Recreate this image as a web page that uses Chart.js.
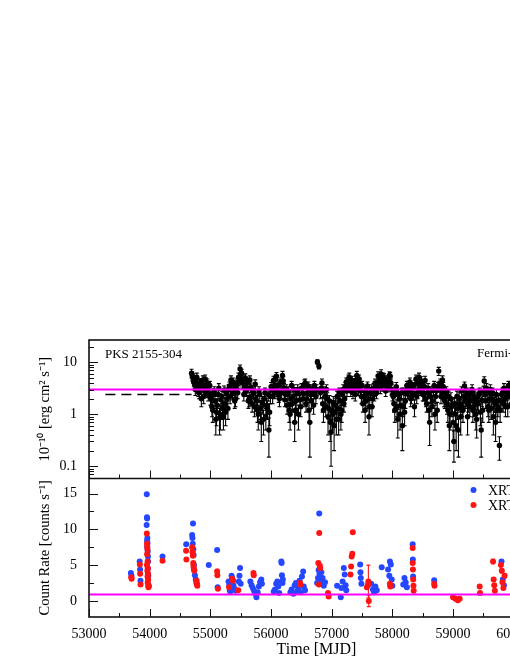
<!DOCTYPE html>
<html>
<head>
<meta charset="utf-8">
<script src="https://cdn.jsdelivr.net/npm/chart.js@4.4.1/dist/chart.umd.min.js"></script>
<style>
    html, body { margin: 0; padding: 0; background: #fff; overflow: hidden; }
    #wrap { width: 510px; height: 660px; overflow: hidden; position: relative; }
    #lc { position: absolute; left: 0; top: 0; }
</style>
</head>
<body>
<div id="wrap"><canvas id="lc" width="560" height="660"></canvas></div>
<script>
// Fermi-LAT light curve (10^-10 erg cm^-2 s^-1), first set of bins
const fermiMjd = [
    54690, 54715, 54740, 54765, 54790, 54815, 54840, 54865, 54890, 54915, 54940, 54965, 54990,
    55015, 55040, 55065, 55090, 55115, 55140, 55165, 55190, 55215, 55240, 55265, 55290,
    55315, 55340, 55365, 55390, 55415, 55440, 55465, 55490,
    55515, 55540, 55565, 55590, 55615, 55640, 55665, 55690, 55715, 55740,
    55765, 55790, 55815, 55840, 55865, 55890, 55915, 55940, 55965, 55990,
    56015, 56040, 56065, 56090, 56115, 56140, 56165, 56190, 56215, 56240,
    56265, 56290, 56315, 56340, 56365, 56390, 56415, 56440, 56465, 56490,
    56515, 56540, 56565, 56590, 56615, 56640, 56665, 56690, 56715, 56740,
    56765, 56790,
    56815, 56840, 56865, 56890, 56915, 56940, 56965, 56990,
    57015, 57040, 57065, 57090, 57115, 57140, 57165, 57190, 57215, 57240,
    57265, 57290, 57315, 57340, 57365, 57390, 57415, 57440, 57465, 57490,
    57515, 57540, 57565, 57590, 57615, 57640, 57665, 57690, 57715, 57740,
    57765, 57790, 57815, 57840, 57865, 57890, 57915, 57940, 57965, 57990,
    58015, 58040, 58065, 58090, 58115, 58140, 58165, 58190, 58215, 58240,
    58265, 58290, 58315, 58340, 58365, 58390, 58415, 58440, 58465, 58490,
    58515, 58540, 58565, 58590, 58615, 58640, 58665, 58690, 58715, 58740,
    58765, 58790, 58815, 58840, 58865, 58890, 58915, 58940, 58965, 58990,
    59015, 59040, 59065, 59090, 59115, 59140, 59165, 59190, 59215, 59240,
    59265, 59290, 59315, 59340, 59365, 59390, 59415, 59440, 59465, 59490,
    59515, 59540, 59565, 59590, 59615, 59640, 59665, 59690, 59715, 59740,
    59765, 59790, 59815, 59840, 59865, 59890, 59915, 59940, 59965, 59990, 60015, 60040
];
const fermiFlux = [
    6.2, 5.0, 3.8, 4.5, 3.2, 2.6, 4.1, 3.5, 2.2, 4.8, 3.0, 2.4, 3.6,
    2.0, 1.2, 2.8, 0.8, 1.5, 3.2, 1.0, 2.2, 0.9, 1.6, 2.6, 1.3,
    3.5, 4.6, 2.5, 3.0, 2.0, 4.0, 5.2, 7.5,
    6.2, 4.8, 3.5, 2.8, 4.2, 2.0, 3.3, 1.6, 2.6, 3.8,
    1.8, 1.0, 2.4, 0.7, 1.5, 2.0, 0.9, 1.3, 0.5, 2.2,
    3.0, 4.5, 2.6, 5.4, 3.5, 2.0, 4.2, 5.6, 3.2, 2.4,
    1.5, 2.8, 1.0, 3.6, 2.2, 0.7, 1.8, 3.0, 2.5, 1.4,
    3.2, 2.5, 4.0, 2.0, 3.5, 0.7, 1.8, 2.8, 3.6, 2.2,
    10.2, 8.4,
    2.6, 4.0, 1.2, 2.2, 3.0, 0.9, 1.8, 0.45,
    1.0, 0.6, 1.5, 2.2, 0.8, 1.8, 1.2, 3.0, 2.0, 4.2,
    3.8, 5.2, 2.8, 4.5, 3.2, 2.4, 5.6, 3.0, 4.0, 2.2,
    1.6, 2.8, 1.8, 3.5, 0.9, 2.5, 1.4, 3.2, 4.0, 2.6,
    5.5, 4.2, 6.0, 3.5, 5.0, 2.8, 4.6, 3.8, 5.4, 3.0,
    2.2, 1.2, 3.4, 0.8, 2.0, 1.5, 0.6, 2.6, 1.8, 3.6,
    2.8, 4.2, 2.2, 3.4, 1.4, 4.8, 2.6, 5.2, 3.0, 3.8,
    2.4, 4.5, 1.6, 3.2, 0.7, 2.8, 1.8, 3.6, 2.2, 1.2,
    6.8, 4.0, 2.6, 3.4, 1.8, 2.8, 1.2, 0.6, 2.0, 1.5,
    0.3, 1.0, 2.2, 0.5, 1.6, 2.8, 1.2, 3.5, 2.0, 0.9,
    2.4, 1.8, 3.0, 1.4, 2.0, 0.8, 1.6, 2.6, 0.5, 1.2,
    4.4, 1.8, 2.6, 1.2, 3.0, 2.0, 0.9, 1.6, 2.4, 1.4,
    0.25, 1.8, 2.6, 3.2, 1.4, 2.2, 3.6, 2.8, 1.6, 3.0, 2.4, 2.0
];
const fermiErr = [
    1.2, 1.0, 0.8, 0.9, 0.7, 0.6, 0.8, 0.7, 0.6, 0.9, 0.7, 0.6, 0.7,
    0.6, 0.5, 0.6, 0.4, 0.5, 0.7, 0.5, 0.6, 0.4, 0.5, 0.6, 0.5,
    0.7, 0.9, 0.6, 0.7, 0.6, 0.8, 1.0, 1.4,
    1.2, 0.9, 0.7, 0.6, 0.8, 0.6, 0.7, 0.5, 0.6, 0.8,
    0.5, 0.5, 0.6, 0.4, 0.5, 0.6, 0.4, 0.5, 0.35, 0.6,
    0.7, 0.9, 0.6, 1.0, 0.7, 0.6, 0.8, 1.1, 0.7, 0.6,
    0.5, 0.6, 0.5, 0.7, 0.6, 0.4, 0.5, 0.7, 0.6, 0.5,
    0.7, 0.6, 0.8, 0.6, 0.7, 0.55, 0.5, 0.6, 0.7, 0.6,
    1.0, 0.9,
    0.6, 0.8, 0.5, 0.6, 0.7, 0.5, 0.5, 0.35,
    0.5, 0.4, 0.5, 0.6, 0.4, 0.5, 0.5, 0.7, 0.6, 0.8,
    0.8, 1.0, 0.6, 0.9, 0.7, 0.6, 1.1, 0.7, 0.8, 0.6,
    0.5, 0.6, 0.5, 0.7, 0.5, 0.6, 0.5, 0.7, 0.8, 0.6,
    1.1, 0.8, 1.2, 0.7, 1.0, 0.6, 0.9, 0.8, 1.0, 0.7,
    0.6, 0.5, 0.7, 0.45, 0.6, 0.5, 0.4, 0.6, 0.5, 0.7,
    0.6, 0.8, 0.6, 0.7, 0.5, 0.9, 0.6, 1.0, 0.7, 0.8,
    0.6, 0.9, 0.5, 0.7, 0.45, 0.6, 0.5, 0.7, 0.6, 0.5,
    1.2, 0.8, 0.6, 0.7, 0.5, 0.6, 0.5, 0.4, 0.6, 0.5,
    0.18, 0.5, 0.6, 0.35, 0.5, 0.6, 0.5, 0.7, 0.6, 0.5,
    0.6, 0.5, 0.7, 0.5, 0.6, 0.45, 0.5, 0.6, 0.35, 0.5,
    0.9, 0.5, 0.6, 0.5, 0.7, 0.6, 0.5, 0.5, 0.6, 0.5,
    0.12, 0.5, 0.6, 0.7, 0.5, 0.6, 0.7, 0.6, 0.5, 0.7, 0.6, 0.6
];

// Fermi-LAT, second set of bins (shifted by half a bin)
const fermiMjdB = [
    54702, 54727, 54752, 54777, 54802, 54827, 54852, 54877, 54902, 54927, 54952, 54977, 55002,
    55027, 55052, 55077, 55102, 55127, 55152, 55177, 55202, 55227, 55252, 55277, 55302,
    55327, 55352, 55377, 55402, 55427, 55452, 55477, 55502,
    55527, 55552, 55577, 55602, 55627, 55652, 55677, 55702, 55727, 55752,
    55777, 55802, 55827, 55852, 55877, 55902, 55927, 55952, 55977, 56002,
    56027, 56052, 56077, 56102, 56127, 56152, 56177, 56202, 56227, 56252,
    56277, 56302, 56327, 56352, 56377, 56402, 56427, 56452, 56477, 56502,
    56527, 56552, 56577, 56602, 56627, 56652, 56677, 56702, 56727, 56752,
    56827, 56852, 56877, 56902, 56927, 56952, 56977, 57002,
    57027, 57052, 57077, 57102, 57127, 57152, 57177, 57202, 57227, 57252,
    57277, 57302, 57327, 57352, 57377, 57402, 57427, 57452, 57477, 57502,
    57527, 57552, 57577, 57602, 57627, 57652, 57677, 57702, 57727, 57752,
    57777, 57802, 57827, 57852, 57877, 57902, 57927, 57952, 57977, 58002,
    58027, 58052, 58077, 58102, 58127, 58152, 58177, 58202, 58227, 58252,
    58277, 58302, 58327, 58352, 58377, 58402, 58427, 58452, 58477, 58502,
    58527, 58552, 58577, 58602, 58627, 58652, 58677, 58702, 58727, 58752,
    58777, 58802, 58827, 58852, 58877, 58902, 58927, 58952, 58977, 59002,
    59027, 59052, 59077, 59102, 59127, 59152, 59177, 59202, 59227, 59252,
    59277, 59302, 59327, 59352, 59377, 59402, 59427, 59452, 59477, 59502,
    59527, 59552, 59577, 59602, 59627, 59652, 59677, 59702, 59727, 59752,
    59777, 59802, 59827, 59852, 59877, 59902, 59927, 59952, 59977, 60002, 60027, 60052
];
const fermiFluxB = [
    5.5, 4.2, 3.0, 5.2, 2.8, 3.9, 2.0, 4.6, 3.3, 2.7, 4.0, 3.4, 2.1,
    1.4, 2.5, 1.8, 1.1, 2.4, 0.85, 1.9, 1.3, 2.9, 1.1, 2.0, 3.0,
    2.2, 3.8, 4.2, 1.8, 3.6, 2.6, 4.4, 6.0,
    4.0, 2.4, 5.0, 3.0, 1.8, 4.6, 2.2, 2.9, 1.4, 2.0,
    1.2, 2.8, 1.3, 1.7, 0.8, 2.6, 1.5, 2.4, 1.1, 3.4,
    2.2, 3.6, 4.8, 2.8, 2.3, 3.8, 2.6, 4.4, 1.9, 3.0,
    2.4, 1.2, 2.0, 1.6, 3.0, 1.2, 2.6, 1.0, 1.9, 3.2,
    2.0, 3.8, 1.6, 2.6, 1.2, 2.4, 3.0, 1.5, 2.6, 3.0,
    3.2, 1.6, 2.8, 1.4, 2.0, 1.3, 0.7, 1.2,
    1.7, 1.1, 0.8, 1.3, 2.6, 1.0, 2.4, 1.6, 3.4, 2.8,
    4.8, 3.4, 4.0, 2.6, 3.8, 4.6, 3.4, 4.8, 2.8, 3.6,
    2.2, 1.2, 2.6, 2.0, 1.4, 3.0, 2.0, 2.4, 2.9, 3.4,
    4.6, 3.2, 4.8, 5.2, 3.8, 4.2, 3.4, 5.6, 4.0, 2.4,
    1.6, 2.8, 1.4, 2.4, 1.0, 2.6, 1.4, 1.1, 2.9, 2.6,
    3.6, 2.0, 3.2, 2.5, 3.8, 2.2, 4.0, 3.4, 4.4, 2.4,
    3.4, 2.0, 2.6, 1.2, 2.2, 1.4, 2.9, 1.0, 2.8, 3.4,
    3.6, 2.2, 4.6, 2.0, 2.4, 1.5, 2.2, 1.0, 1.4, 0.7,
    1.6, 0.6, 1.3, 2.0, 0.9, 1.4, 2.2, 1.8, 2.6, 1.6,
    1.4, 2.6, 1.2, 2.2, 1.0, 1.7, 2.4, 1.1, 1.9, 2.8,
    2.4, 3.2, 1.4, 2.0, 1.3, 2.6, 1.8, 0.7, 1.2, 1.9,
    1.2, 2.4, 1.6, 2.0, 2.8, 1.4, 2.6, 3.4, 2.2, 1.8, 3.2, 2.6
];
const fermiErrB = [
    1.1, 0.8, 0.7, 1.0, 0.6, 0.8, 0.6, 0.9, 0.7, 0.6, 0.8, 0.7, 0.6,
    0.5, 0.6, 0.5, 0.5, 0.6, 0.45, 0.5, 0.5, 0.6, 0.5, 0.6, 0.7,
    0.6, 0.8, 0.8, 0.5, 0.7, 0.6, 0.9, 1.1,
    0.8, 0.6, 1.0, 0.7, 0.5, 0.9, 0.6, 0.6, 0.5, 0.6,
    0.5, 0.6, 0.5, 0.5, 0.4, 0.6, 0.5, 0.6, 0.5, 0.7,
    0.6, 0.7, 0.9, 0.6, 0.6, 0.8, 0.6, 0.9, 0.5, 0.7,
    0.6, 0.5, 0.6, 0.5, 0.7, 0.5, 0.6, 0.5, 0.5, 0.7,
    0.6, 0.8, 0.5, 0.6, 0.5, 0.6, 0.7, 0.5, 0.6, 0.7,
    0.7, 0.5, 0.6, 0.5, 0.6, 0.5, 0.4, 0.5,
    0.5, 0.5, 0.4, 0.5, 0.6, 0.5, 0.6, 0.5, 0.7, 0.6,
    0.9, 0.7, 0.8, 0.6, 0.8, 0.9, 0.7, 0.9, 0.6, 0.7,
    0.6, 0.5, 0.6, 0.6, 0.5, 0.7, 0.6, 0.6, 0.6, 0.7,
    0.9, 0.7, 0.9, 1.0, 0.8, 0.8, 0.7, 1.0, 0.8, 0.6,
    0.5, 0.6, 0.5, 0.6, 0.5, 0.6, 0.5, 0.5, 0.6, 0.6,
    0.7, 0.6, 0.7, 0.6, 0.8, 0.6, 0.8, 0.7, 0.9, 0.6,
    0.7, 0.6, 0.6, 0.5, 0.6, 0.5, 0.6, 0.5, 0.6, 0.7,
    0.7, 0.6, 0.9, 0.6, 0.6, 0.5, 0.6, 0.5, 0.5, 0.4,
    0.5, 0.4, 0.5, 0.6, 0.5, 0.5, 0.6, 0.5, 0.6, 0.5,
    0.5, 0.6, 0.5, 0.6, 0.5, 0.5, 0.6, 0.5, 0.5, 0.6,
    0.6, 0.7, 0.5, 0.6, 0.5, 0.6, 0.5, 0.4, 0.5, 0.5,
    0.5, 0.6, 0.5, 0.6, 0.6, 0.5, 0.6, 0.7, 0.6, 0.5, 0.7, 0.6
];

// Swift-XRT count rates (blue)
const xrtWtMjd = [
    53690, 53700, 53835, 53842, 53848,
    53952, 53955, 53958, 53950, 53962, 53957, 53965, 53960, 53968, 53972, 53975, 53970, 53978, 53982, 53985,
    54212, 54602,
    54700, 54705, 54714, 54710, 54720, 54725, 54730, 54735, 54745, 54760, 54770, 54780,
    54974, 55112, 55120,
    55300, 55310, 55320, 55330, 55350, 55360, 55380, 55400, 55420, 55470, 55480, 55490, 55500,
    55660, 55680, 55700, 55720, 55740, 55760, 55780, 55800, 55820, 55840, 55850,
    56045, 56065, 56085, 56105, 56120, 56135, 56170, 56175, 56180, 56190, 56195,
    56320, 56340, 56370, 56390, 56410, 56430, 56450, 56470, 56490, 56510, 56530, 56540, 56560,
    56795, 56760, 56775, 56785, 56800, 56810, 56830, 56850, 56870, 56890,
    57090, 57150, 57160, 57180, 57200, 57215, 57230, 57240,
    57470, 57475, 57480, 57490,
    57650, 57680, 57700, 57720, 57743, 57825,
    57930, 57950, 57960, 57975, 57990, 58000,
    58180, 58200, 58220, 58240, 58335, 58338, 58342,
    58690, 59800, 59820, 59840
];
const xrtWtRate = [
    3.9, 3.5, 5.5, 4.4, 2.8,
    14.9, 11.7, 11.5, 10.6, 8.8, 8.4, 8.1, 7.5, 6.9, 6.2, 5.5, 4.5, 3.5, 2.2, 2.0,
    6.2, 7.9,
    9.2, 8.8, 10.8, 8.0, 7.2, 6.4, 5.0, 4.3, 3.6, 3.0, 2.5, 2.3,
    5.0, 7.1, 1.9,
    2.7, 2.1, 1.5, 1.3, 3.5, 3.2, 2.2, 1.7, 1.4, 2.7, 3.5, 4.6, 2.4,
    2.7, 2.2, 1.8, 1.4, 1.0, 0.5, 1.2, 2.0, 2.6, 3.0, 2.4,
    1.3, 1.6, 2.4, 2.7, 2.0, 1.1, 5.5, 5.3, 3.6, 2.5, 3.0,
    1.2, 1.6, 1.0, 2.2, 2.5, 1.3, 1.8, 2.8, 1.2, 3.4, 4.1, 2.0, 1.5,
    12.2, 2.5, 3.2, 4.3, 3.8, 2.7, 4.0, 3.2, 2.1, 2.6,
    2.1, 0.5, 1.8, 2.7, 4.6, 3.7, 2.2, 1.5,
    5.1, 4.0, 3.2, 2.4,
    2.4, 1.6, 1.2, 2.0, 1.5, 4.7,
    4.4, 3.5, 5.5, 5.1, 3.0, 2.1,
    2.3, 3.2, 2.6, 1.9, 7.9, 5.8, 3.4,
    2.9, 5.5, 3.0, 2.2
];

// Swift-XRT count rates (red)
const xrtPcMjd = [
    53697, 53703, 53838, 53843, 53850,
    53953, 53956, 53960, 53963, 53958, 53966, 53955, 53969, 53962, 53972, 53965, 53975, 53968, 53978, 53980,
    54212, 54600, 54605,
    54700, 54706, 54712, 54718, 54722, 54726, 54735, 54775, 54780, 54785,
    55112, 55116, 55125, 55310, 55360, 55375, 55460, 55710, 55716,
    56480, 56485,
    56795, 56780, 56805, 56812, 56790, 56940, 56950,
    57310, 57320, 57330, 57340, 57348,
    57580, 57600, 57605, 57612,
    57960, 57965,
    58335, 58336, 58340, 58344, 58348, 58352,
    58690, 58695,
    59000, 59040, 59080, 59110, 59440, 59445,
    59660, 59670, 59680, 59690,
    59790, 59805, 59815, 59830, 59850
];
const xrtPcRate = [
    3.3, 3.1, 5.1, 3.8, 2.3,
    9.4, 8.0, 7.6, 7.2, 6.5, 5.5, 5.0, 4.6, 4.2, 3.8, 3.4, 3.0, 2.6, 2.2, 1.9,
    5.6, 7.0, 5.8,
    7.5, 6.8, 6.3, 5.3, 4.9, 4.6, 4.2, 2.8, 2.3, 2.1,
    4.1, 3.6, 1.7, 1.9, 3.1, 2.8, 1.5, 3.9, 3.6,
    2.5, 2.3,
    9.5, 5.3, 4.9, 4.6, 2.3, 1.1, 0.6,
    3.7, 4.8, 6.2, 6.6, 9.6,
    1.9, 2.3, 2.7, 0.0,
    2.4, 2.0,
    7.4, 5.3, 4.4, 3.0, 2.1, 1.4,
    2.4, 2.1,
    0.5, 0.3, 0.1, 0.3, 2.0, 1.1,
    5.5, 3.0, 2.2, 1.4,
    5.0, 4.2, 2.6, 1.8, 3.5
];
const xrtPcErr = [
    0.2, 0.2, 0.2, 0.2, 0.2,
    0.2, 0.2, 0.2, 0.2, 0.2, 0.2, 0.2, 0.2, 0.2, 0.2, 0.2, 0.2, 0.2, 0.2, 0.2,
    0.2, 0.2, 0.2,
    0.2, 0.2, 0.2, 0.2, 0.2, 0.2, 0.2, 0.2, 0.2, 0.2,
    0.3, 0.2, 0.2, 0.2, 0.3, 0.2, 0.2, 0.2, 0.2,
    0.2, 0.2,
    0.2, 0.2, 0.2, 0.2, 0.2, 0.2, 0.2,
    0.2, 0.2, 0.2, 0.2, 0.2,
    0.3, 0.3, 2.3, 0.8,
    0.2, 0.2,
    0.2, 0.2, 0.2, 0.2, 0.2, 0.2,
    0.2, 0.2,
    0.2, 0.2, 0.2, 0.2, 0.2, 0.2,
    0.3, 0.2, 0.2, 0.2,
    0.7, 0.3, 0.2, 0.2, 0.3
];

// reference levels
const fermiMeanX = [53000, 60500];
const fermiMeanY = [3.0, 3.0];
const preFermiX = [53270, 54690];
const preFermiY = [2.4, 2.4];
const xrtMeanX = [53000, 60500];
const xrtMeanY = [0.9, 0.9];

// tick values
const mjdTicks = [53000, 53500, 54000, 54500, 55000, 55500, 56000, 56500, 57000, 57500, 58000, 58500, 59000, 59500, 60000, 60500];
const rateTicks = [0, 2.5, 5, 7.5, 10, 12.5, 15];
const fluxTicks = [0.06, 0.07, 0.08, 0.09, 0.1, 0.2, 0.3, 0.4, 0.5, 0.6, 0.7, 0.8, 0.9, 1, 2, 3, 4, 5, 6, 7, 8, 9, 10, 20];
const fluxLabels = { 0.1: '0.1', 1: '1', 10: '10' };

const SERIF = "'Liberation Serif', 'Times New Roman', serif";
Chart.defaults.font.family = SERIF;
Chart.defaults.color = '#000';

function toPoints(xs, ys) {
    return xs.map((x, i) => ({ x: x, y: ys[i] }));
}

// vertical error bars, drawn through the scales
const errorBars = {
    id: 'errorBars',
    beforeDatasetsDraw(chart) {
        const ctx = chart.ctx;
        const xs = chart.scales.x;
        chart.data.datasets.forEach(ds => {
            if (!ds.errors) return;
            const ys = chart.scales[ds.yAxisID];
            ctx.save();
            ctx.strokeStyle = ds.backgroundColor;
            ctx.lineWidth = 1.1;
            ds.data.forEach((p, j) => {
                const e = ds.errors[j];
                if (!e) return;
                const x = xs.getPixelForValue(p.x);
                let lo = p.y - e;
                if (ys.type === 'logarithmic' && lo < ys.min) lo = ys.min;
                const yLo = Math.min(ys.getPixelForValue(lo), ys.bottom);
                const yHi = Math.max(ys.getPixelForValue(p.y + e), ys.top);
                ctx.beginPath();
                ctx.moveTo(x, yLo);
                ctx.lineTo(x, yHi);
                if (yLo < ys.bottom) { ctx.moveTo(x - 2, yLo); ctx.lineTo(x + 2, yLo); }
                if (yHi > ys.top) { ctx.moveTo(x - 2, yHi); ctx.lineTo(x + 2, yHi); }
                ctx.stroke();
            });
            ctx.restore();
        });
    }
};

// ROOT-like frame with inward ticks, plus labels in the panels
const frameAndText = {
    id: 'frameAndText',
    afterDraw(chart) {
        const ctx = chart.ctx;
        const xs = chart.scales.x;
        const yt = chart.scales.yTop;
        const yb = chart.scales.yBot;
        const L = xs.left, R = xs.right;

        ctx.save();
        ctx.strokeStyle = '#111';
        ctx.lineWidth = 1;
        ctx.beginPath();
        // x ticks on the bottom edge of each panel
        xs.ticks.forEach(t => {
            const x = Math.round(xs.getPixelForValue(t.value)) + 0.5;
            const len = t.value % 1000 === 0 ? 8 : 4;
            [yt.bottom, yb.bottom].forEach(yy => {
                ctx.moveTo(x, yy);
                ctx.lineTo(x, yy - len);
            });
        });
        // log ticks, top panel
        yt.ticks.forEach(t => {
            const y = Math.round(yt.getPixelForValue(t.value)) + 0.5;
            ctx.moveTo(L, y);
            ctx.lineTo(L + (fluxLabels[t.value] ? 9 : 5), y);
        });
        // linear ticks, bottom panel
        yb.ticks.forEach(t => {
            const y = Math.round(yb.getPixelForValue(t.value)) + 0.5;
            ctx.moveTo(L, y);
            ctx.lineTo(L + (t.value % 5 === 0 ? 9 : 5), y);
        });
        ctx.stroke();

        ctx.lineWidth = 1.6;
        ctx.strokeRect(L, yt.top, R - L, yb.bottom - yt.top);
        ctx.beginPath();
        ctx.moveTo(L, yt.bottom);
        ctx.lineTo(R, yt.bottom);
        ctx.stroke();

        // panel labels
        ctx.fillStyle = '#000';
        ctx.textBaseline = 'alphabetic';
        ctx.textAlign = 'left';
        ctx.font = '13px ' + SERIF;
        ctx.fillText('PKS 2155-304', 105, 358);
        ctx.fillText('Fermi-LAT', 477, 357);

        // XRT legend
        const legend = [
            { ds: chart.data.datasets[3], y: 490 },
            { ds: chart.data.datasets[4], y: 505 }
        ];
        ctx.font = '14px ' + SERIF;
        legend.forEach(item => {
            ctx.fillStyle = item.ds.backgroundColor;
            ctx.beginPath();
            ctx.arc(473.5, item.y, 3, 0, Math.PI * 2);
            ctx.fill();
            ctx.fillStyle = '#000';
            ctx.fillText(item.ds.label, 488, item.y + 5);
        });
        ctx.restore();
    }
};

const ctx = document.getElementById('lc').getContext('2d');
const lcChart = new Chart(ctx, {
    type: 'scatter',
    data: {
        datasets: [
            {
                label: 'Fermi-LAT',
                data: toPoints(fermiMjd.concat(fermiMjdB), fermiFlux.concat(fermiFluxB)),
                errors: fermiErr.concat(fermiErrB),
                yAxisID: 'yTop',
                backgroundColor: '#000',
                borderWidth: 0,
                pointRadius: 2.7,
                order: 2
            },
            {
                label: 'Fermi mean',
                data: toPoints(fermiMeanX, fermiMeanY),
                yAxisID: 'yTop',
                showLine: true,
                borderColor: '#ff00ff',
                borderWidth: 2,
                pointRadius: 0,
                order: 0
            },
            {
                label: 'pre-Fermi',
                data: toPoints(preFermiX, preFermiY),
                yAxisID: 'yTop',
                showLine: true,
                borderColor: '#000',
                borderWidth: 1.5,
                borderDash: [10, 6],
                pointRadius: 0,
                order: 3
            },
            {
                label: 'XRT (WT)',
                data: toPoints(xrtWtMjd, xrtWtRate),
                yAxisID: 'yBot',
                backgroundColor: '#2547ff',
                borderWidth: 0,
                pointRadius: 3,
                order: 2
            },
            {
                label: 'XRT (PC)',
                data: toPoints(xrtPcMjd, xrtPcRate),
                errors: xrtPcErr,
                yAxisID: 'yBot',
                backgroundColor: '#ff1414',
                borderWidth: 0,
                pointRadius: 3,
                order: 1
            },
            {
                label: 'XRT mean',
                data: toPoints(xrtMeanX, xrtMeanY),
                yAxisID: 'yBot',
                showLine: true,
                borderColor: '#ff00ff',
                borderWidth: 2,
                pointRadius: 0,
                order: 0
            }
        ]
    },
    options: {
        responsive: false,
        animation: false,
        layout: { padding: { top: 340, right: 16, bottom: 0, left: 0 } },
        plugins: {
            legend: { display: false },
            tooltip: { enabled: false }
        },
        scales: {
            x: {
                type: 'linear',
                position: 'bottom',
                min: 53000,
                max: 60500,
                grid: { display: false, drawTicks: false },
                border: { display: false },
                afterBuildTicks: s => { s.ticks = mjdTicks.map(v => ({ value: v })); },
                ticks: {
                    autoSkip: false,
                    maxRotation: 0,
                    padding: 9,
                    font: { size: 14 },
                    callback: v => (v % 1000 === 0 ? String(v) : '')
                },
                title: {
                    display: true,
                    text: 'Time [MJD]',
                    font: { size: 16 },
                    padding: { top: 0, bottom: 1 }
                },
                afterFit: s => { s.height = 43; }
            },
            // stacked panels: the first one listed ends up at the bottom
            yBot: {
                type: 'linear',
                position: 'left',
                stack: 'panels',
                stackWeight: 1,
                min: -2.25,
                max: 17.1,
                grid: { display: false, drawTicks: false },
                border: { display: false },
                afterBuildTicks: s => { s.ticks = rateTicks.map(v => ({ value: v })); },
                ticks: {
                    autoSkip: false,
                    padding: 12,
                    font: { size: 14 },
                    callback: v => (v % 5 === 0 ? String(v) : '')
                },
                title: {
                    display: true,
                    text: 'Count Rate [counts s⁻¹]',
                    font: { size: 14.5 },
                    padding: { top: 36, bottom: 0 }
                },
                afterFit: s => { s.width = 89; }
            },
            yTop: {
                type: 'logarithmic',
                position: 'left',
                stack: 'panels',
                stackWeight: 1,
                min: 0.058,
                max: 27,
                grid: { display: false, drawTicks: false },
                border: { display: false },
                afterBuildTicks: s => { s.ticks = fluxTicks.map(v => ({ value: v })); },
                ticks: {
                    autoSkip: false,
                    padding: 12,
                    font: { size: 14 },
                    callback: v => fluxLabels[v] || ''
                },
                title: {
                    display: true,
                    text: '10⁻¹⁰ [erg cm² s⁻¹]',
                    font: { size: 14.5 },
                    padding: { top: 36, bottom: 0 }
                },
                afterFit: s => { s.width = 89; }
            }
        }
    },
    plugins: [errorBars, frameAndText]
});
</script>
</body>
</html>
